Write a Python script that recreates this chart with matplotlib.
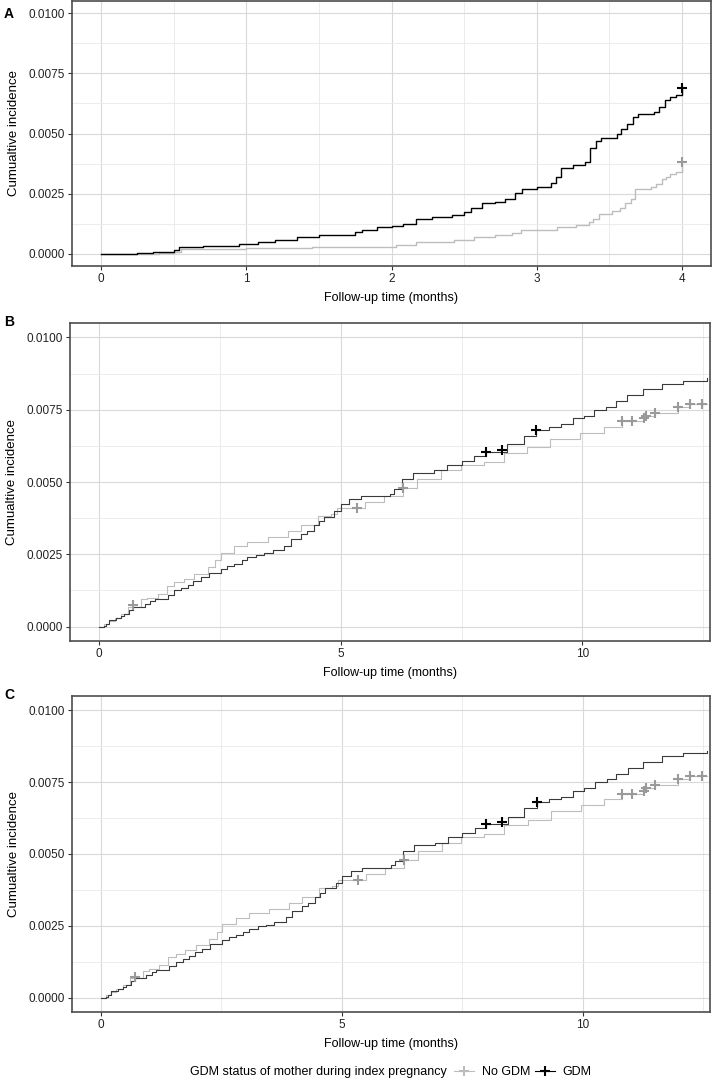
import numpy as np
import matplotlib
matplotlib.use('Agg')
import matplotlib.pyplot as plt
from matplotlib.lines import Line2D
from matplotlib.ticker import MultipleLocator, FormatStrFormatter

plt.rcParams['font.family'] = ['Liberation Sans', 'DejaVu Sans']

# Panel A: first 4 months
a_gdm_t = [0, 0.25, 0.36, 0.5, 0.54, 0.7, 0.95, 1.08, 1.2, 1.35, 1.5, 1.75, 1.8, 1.9, 2.0,
           2.08, 2.17, 2.28, 2.42, 2.5, 2.55, 2.62, 2.71, 2.78, 2.85, 2.9, 3.0, 3.1, 3.13,
           3.17, 3.25, 3.33, 3.37, 3.41, 3.44, 3.55, 3.58, 3.62, 3.66, 3.7, 3.81, 3.84,
           3.88, 3.92, 3.96, 4.0]
a_gdm_v = [0, 0.00003, 0.00007, 0.00015, 0.0003, 0.00033, 0.00043, 0.0005, 0.00058, 0.0007,
           0.00079, 0.0009, 0.001, 0.0011, 0.00118, 0.00125, 0.00144, 0.00152, 0.00163,
           0.00176, 0.0019, 0.0021, 0.00217, 0.0023, 0.00252, 0.0027, 0.0028, 0.00294,
           0.0032, 0.00356, 0.0037, 0.0038, 0.0044, 0.00467, 0.0048, 0.005, 0.0052, 0.0054,
           0.0057, 0.0058, 0.0059, 0.0061, 0.0064, 0.0065, 0.0066, 0.0069]
a_nogdm_t = [0, 0.4, 0.5, 0.55, 1.0, 1.45, 2.03, 2.17, 2.43, 2.57, 2.71, 2.83, 2.89, 3.14,
             3.27, 3.36, 3.39, 3.43, 3.52, 3.57, 3.61, 3.65, 3.68, 3.79, 3.82, 3.86, 3.89,
             3.92, 3.96, 4.0]
a_nogdm_v = [0, 0.00005, 0.0001, 0.0002, 0.00026, 0.0003, 0.00037, 0.00051, 0.0006, 0.0007,
             0.0008, 0.00089, 0.001, 0.00111, 0.00122, 0.00132, 0.00146, 0.00166, 0.0018,
             0.0019, 0.0021, 0.0023, 0.0027, 0.0028, 0.0029, 0.0031, 0.0032, 0.0033, 0.0034,
             0.0038]
a_gdm_cens = ([4.0], [0.0069])
a_nogdm_cens = ([4.0], [0.0038])

# Panels B and C: full follow-up
b_gdm_t = [0, 0.11, 0.15, 0.21, 0.35, 0.45, 0.52, 0.62, 0.7, 0.94, 1.05, 1.15, 1.42, 1.56,
           1.7, 1.83, 1.95, 2.1, 2.27, 2.52, 2.65, 2.8, 2.95, 3.07, 3.25, 3.42, 3.6, 3.83,
           3.97, 4.18, 4.3, 4.45, 4.55, 4.66, 4.87, 5.0, 5.18, 5.41, 6.03, 6.1, 6.27, 6.5,
           6.93, 7.2, 7.5, 7.76, 8.0, 8.44, 8.79, 9.05, 9.3, 9.55, 9.8, 10.03, 10.25, 10.5,
           10.7, 10.93, 11.26, 11.64, 12.09, 12.57]
b_gdm_v = [0, 0.00003, 0.0001, 0.00023, 0.0003, 0.00038, 0.00044, 0.00058, 0.00069, 0.00078,
           0.00088, 0.00096, 0.0011, 0.00125, 0.00135, 0.00145, 0.00158, 0.0017, 0.00185,
           0.002, 0.0021, 0.00217, 0.0023, 0.0024, 0.00248, 0.00254, 0.00265, 0.0028, 0.00303,
           0.0032, 0.0033, 0.0035, 0.00365, 0.0038, 0.004, 0.00425, 0.0044, 0.0045, 0.0046,
           0.00476, 0.0051, 0.0053, 0.0054, 0.0056, 0.00574, 0.0059, 0.00603, 0.0063, 0.0066,
           0.0068, 0.0069, 0.007, 0.0072, 0.0073, 0.0075, 0.0076, 0.0078, 0.008, 0.0082,
           0.0084, 0.0085, 0.0086]
b_nogdm_t = [0, 0.1, 0.2, 0.32, 0.45, 0.6, 0.87, 1.0, 1.21, 1.4, 1.56, 1.75, 1.97, 2.25, 2.4,
             2.52, 2.8, 3.07, 3.49, 3.9, 4.18, 4.52, 4.8, 4.93, 5.5, 5.9, 6.29, 6.58, 7.07,
             7.48, 7.96, 8.37, 8.86, 9.34, 9.96, 10.44, 10.82, 11.27, 11.32, 11.5, 11.98,
             12.22, 12.57]
b_nogdm_v = [0, 0.0001, 0.0002, 0.0003, 0.00045, 0.00067, 0.00094, 0.001, 0.00114, 0.0014,
             0.00153, 0.00165, 0.00182, 0.00205, 0.0023, 0.00256, 0.00277, 0.00294, 0.0031,
             0.0033, 0.0035, 0.00383, 0.0039, 0.0041, 0.0043, 0.0045, 0.0048, 0.0051, 0.0054,
             0.0056, 0.0057, 0.006, 0.0062, 0.0065, 0.0067, 0.0069, 0.0071, 0.0072, 0.0073,
             0.0074, 0.0076, 0.0077, 0.0077]
b_gdm_cens = ([8.0, 8.33, 9.05], [0.00603, 0.0061, 0.0068])
b_nogdm_cens = ([0.7, 5.34, 6.29, 10.82, 11.03, 11.27, 11.32, 11.5, 11.98, 12.22, 12.48],
                [0.00073, 0.0041, 0.0048, 0.0071, 0.0071, 0.0072, 0.0073, 0.0074, 0.0076,
                 0.0077, 0.0077])

GREY_LINE = '#bdbdbd'
GREY_MARK = '#9a9a9a'
BORDER = '#4d4d4d'
GRID_MAJOR = '#d9d9d9'
GRID_MINOR = '#e9e9e9'

W, H = 713, 1079
fig = plt.figure(figsize=(W / 100, H / 100), dpi=100)


def box(left, top, right, bottom):
    return [left / W, 1 - bottom / H, (right - left) / W, (bottom - top) / H]


def style_axes(ax, xmax, xmajor, xminor):
    ax.set_xlim(-0.05 * xmax, 1.05 * xmax)
    ax.set_ylim(-0.0005, 0.0105)
    ax.xaxis.set_major_locator(MultipleLocator(xmajor))
    ax.xaxis.set_minor_locator(MultipleLocator(xminor))
    ax.yaxis.set_major_locator(MultipleLocator(0.0025))
    ax.yaxis.set_minor_locator(MultipleLocator(0.00125))
    ax.yaxis.set_major_formatter(FormatStrFormatter('%.4f'))
    ax.xaxis.set_major_formatter(FormatStrFormatter('%d'))
    ax.grid(True, which='major', color=GRID_MAJOR, lw=0.8)
    ax.grid(True, which='minor', color=GRID_MINOR, lw=0.6)
    ax.set_axisbelow(True)
    for s in ax.spines.values():
        s.set_color(BORDER)
        s.set_linewidth(1.2)
    ax.tick_params(which='major', length=3, width=0.8, color='#333333',
                   labelsize=8.5, labelcolor='#222222', pad=2)
    ax.tick_params(which='minor', length=0)
    ax.set_xlabel('Follow-up time (months)', fontsize=9, labelpad=5)
    ax.set_ylabel('Cumualtive incidence', fontsize=9.5, labelpad=6)


def draw_panel(ax, gt, gv, nt, nv, gc, nc, gdm_color, lw):
    ax.plot(nt, nv, drawstyle='steps-post', color=GREY_LINE, lw=lw)
    ax.plot(gt, gv, drawstyle='steps-post', color=gdm_color, lw=lw)
    ax.plot(nc[0], nc[1], ls='none', marker='+', ms=7, mew=1.5, color=GREY_MARK)
    ax.plot(gc[0], gc[1], ls='none', marker='+', ms=7, mew=1.5, color='black')


axA = fig.add_axes(box(72, 1, 711, 266))
draw_panel(axA, a_gdm_t, a_gdm_v, a_nogdm_t, a_nogdm_v, a_gdm_cens, a_nogdm_cens, 'black', 1.0)
style_axes(axA, 4, 1, 0.5)

axB = fig.add_axes(box(70, 323, 710, 641))
draw_panel(axB, b_gdm_t, b_gdm_v, b_nogdm_t, b_nogdm_v, b_gdm_cens, b_nogdm_cens, '#3a3a3a', 0.8)
style_axes(axB, 12.04, 5, 2.5)

axC = fig.add_axes(box(72, 696, 710, 1012))
draw_panel(axC, b_gdm_t, b_gdm_v, b_nogdm_t, b_nogdm_v, b_gdm_cens, b_nogdm_cens, '#3a3a3a', 0.8)
style_axes(axC, 12.04, 5, 2.5)

for lab, y in [('A', 14), ('B', 322), ('C', 695)]:
    fig.text(4 / W, 1 - y / H, lab, fontsize=10, fontweight='bold', va='center', ha='left')

# legend along the bottom
fig.text(447 / W, 1 - 1072 / H, 'GDM status of mother during index pregnancy',
         fontsize=9, ha='right', va='center')
handles = [Line2D([], [], color=GREY_LINE, lw=0.8, marker='+', ms=7, mew=1.5, mec=GREY_LINE),
           Line2D([], [], color='black', lw=0.8, marker='+', ms=7, mew=1.5, mec='black')]
fig.legend(handles, ['No GDM', 'GDM'], loc='center left', bbox_to_anchor=(454 / W, 1 - 1072 / H),
           ncol=2, frameon=False, fontsize=9, handlelength=1.6, handletextpad=0.6,
           columnspacing=0.4, borderpad=0, borderaxespad=0)

fig.savefig('out.png', dpi=100)
